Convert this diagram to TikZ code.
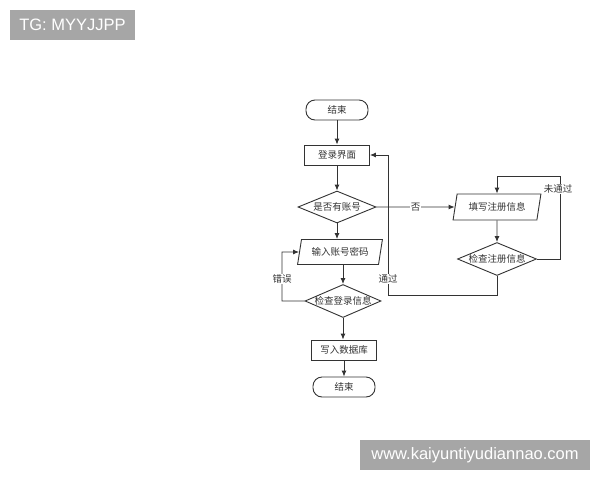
\documentclass[tikz,border=0pt]{standalone}
\usepackage{fontspec}
\setmainfont{Liberation Sans}
\newfontfamily\cjk{Noto Sans CJK SC}
\usetikzlibrary{shapes.geometric,arrows.meta}
\definecolor{ln}{HTML}{333333}
\definecolor{badge}{HTML}{A6A6A6}
\newcommand{\zw}[1]{\makebox[0pt]{#1}}
\tikzset{
  base/.style={draw=ln, line width=0.9pt, font=\cjk\fontsize{9.5}{11}\selectfont, text=ln, inner sep=0pt},
  term/.style={base, rectangle, rounded corners=9pt, minimum width=62pt, minimum height=20pt},
  proc/.style={base, rectangle, minimum width=65pt, minimum height=20pt},
  io/.style={base, trapezium, trapezium left angle=72, trapezium right angle=108, trapezium stretches=true, minimum width=85pt, minimum height=25pt},
  dec/.style={base, diamond, aspect=3, minimum width=78pt, minimum height=33pt},
  arr/.style={draw=ln, line width=0.9pt, -{Latex[length=6pt,width=5pt]}},
  lbl/.style={fill=white, font=\cjk\fontsize{9.5}{11}\selectfont, text=ln, inner sep=1pt},
  badgestyle/.style={fill=badge, text=white, font=\fontsize{16.5}{18}\selectfont, inner sep=0pt}
}
\begin{document}
\begin{tikzpicture}[x=1pt,y=-1pt]
\useasboundingbox (0,0) rectangle (600,480);
\fill[white] (0,0) rectangle (600,480);
% badges
\node[badgestyle, minimum width=125pt, minimum height=30pt] (tg) at (72.5,25) {TG: MYYJJPP};
\node[badgestyle, minimum width=230pt, minimum height=30pt] (www) at (475,455) {www.kaiyuntiyudiannao.com};
% nodes
\node[term] (start) at (337,110) {结束};
\node[proc] (login) at (337,155) {登录界面};
\node[dec, minimum width=78pt, minimum height=32pt] (hasacc) at (337,207) {\zw{是否有账号}};
\node[io] (input) at (340,252) {输入账号密码};
\node[dec, minimum width=76pt, minimum height=33pt] (chklog) at (343,301) {\zw{检查登录信息}};
\node[proc] (write) at (344,350) {写入数据库};
\node[term] (end) at (344,387) {结束};
\node[io, minimum width=88pt, minimum height=26pt] (fill) at (497,207) {填写注册信息};
\node[dec, minimum width=79pt, minimum height=33pt] (chkreg) at (497,259) {\zw{检查注册信息}};
% helper coordinates
\coordinate (rr) at (560,176);
\coordinate (bb) at (388,295);
\coordinate (ll) at (282,252);
% connectors
\draw[arr] (start) -- (login);
\draw[arr] (login) -- (hasacc);
\draw[arr] (hasacc.south) -- (input.north -| hasacc.south);
\draw[arr] (input.south -| chklog.north) -- (chklog.north);
\draw[arr] (chklog.south) -- (write.north -| chklog.south);
\draw[arr] (write.south -| end.north) -- (end.north);
\draw[arr] (hasacc.east) -- node[lbl] (no) {否} (fill.west);
\draw[arr] (fill.south) -- (chkreg.north);
\draw[arr] (chkreg.east) -| (rr) -| (fill.north);
\node[lbl] (notpass) at (558,189) {未通过};
\draw[arr] (chkreg.south) |- (bb) |- (login.east);
\node[lbl] (pass) at (388,279) {通过};
\draw[arr] (chklog.west) -| (ll) -- (input.west);
\node[lbl] (err) at (282,279) {错误};
\end{tikzpicture}
\end{document}
